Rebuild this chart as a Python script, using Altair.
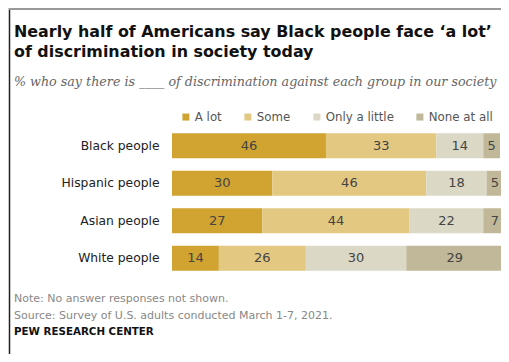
import altair as alt
import pandas as pd

groups = ["Black people", "Hispanic people", "Asian people", "White people"]
responses = ["A lot", "Some", "Only a little", "None at all"]
a_lot = [46, 30, 27, 14]
some = [33, 46, 44, 26]
only_little = [14, 18, 22, 30]
none_at_all = [5, 5, 7, 29]
colors = ["#D1A330", "#E3C882", "#DBD8C6", "#C0B898"]

rows = []
for i, g in enumerate(groups):
    for j, (r, vals) in enumerate(zip(responses, [a_lot, some, only_little, none_at_all])):
        rows.append({"group": g, "response": r, "value": vals[i], "order": j})
df = pd.DataFrame(rows)

SANS = "DejaVu Sans"
W, H = 329, 150
PAD = {"left": 164, "top": 119, "right": 0, "bottom": 77}
XMAX = 98.3

base = alt.Chart(df).transform_stack(
    stack="value", groupby=["group"], as_=["x0", "x1"],
    sort=[alt.SortField("order", order="ascending")]
).transform_calculate(mid="(datum.x0 + datum.x1) / 2")

yenc = alt.Y("group:N", sort=groups, title=None,
             scale=alt.Scale(paddingInner=1/3, paddingOuter=1/6),
             axis=alt.Axis(domain=False, ticks=False, labelPadding=13,
                           labelFont=SANS, labelFontSize=12.3, labelColor="#222222"))

bars = base.mark_bar(clip=True).encode(
    x=alt.X("x0:Q", scale=alt.Scale(domain=[0, XMAX], nice=False, zero=True), axis=None),
    x2="x1:Q",
    y=yenc,
    color=alt.Color("response:N", sort=responses,
                    scale=alt.Scale(domain=responses, range=colors),
                    legend=alt.Legend(orient="none", direction="horizontal", title=None,
                                      legendX=8, legendY=-16,
                                      symbolType="square", symbolSize=49,
                                      symbolStrokeWidth=0, labelOffset=3,
                                      columnPadding=20,
                                      labelFont=SANS, labelFontSize=11.8,
                                      labelColor="#555555")),
)

labels = base.mark_text(font=SANS, fontSize=13, color="#444444", baseline="middle").encode(
    x=alt.X("mid:Q"),
    y=alt.Y("group:N", sort=groups),
    text="value:Q",
)

def txt(s, x, y, size, color="#000000", weight="normal", style="normal", font=SANS):
    return alt.Chart(alt.Data(values=[{}])).mark_text(
        text=s, align="left", baseline="alphabetic", font=font, fontSize=size,
        color=color, fontWeight=weight, fontStyle=style
    ).encode(x=alt.value(x), y=alt.value(y))

X0 = -158
title1 = txt("Nearly half of Americans say Black people face \u2018a lot\u2019", X0, -90, 15.9, "#111111", "bold")
title2 = txt("of discrimination in society today", X0, -70, 15.9, "#111111", "bold")
subtitle = txt("% who say there is ____ of discrimination against each group in our society",
               X0, -41, 12.7, "#666666", style="italic", font="DejaVu Serif")
note = txt("Note: No answer responses not shown.", X0, 175, 11, "#888888")
source = txt("Source: Survey of U.S. adults conducted March 1-7, 2021.", X0, 192, 11, "#888888")
pew = txt("PEW RESEARCH CENTER", X0, 208, 10.3, "#111111", "bold")

border_left = alt.Chart(alt.Data(values=[{}])).mark_rule(color="#222222", strokeWidth=1.5).encode(
    x=alt.value(-162.5), y=alt.value(-119), y2=alt.value(227))
border_top = alt.Chart(alt.Data(values=[{}])).mark_rule(color="#999999", strokeWidth=2).encode(
    x=alt.value(-163), x2=alt.value(329), y=alt.value(-118))

chart = alt.layer(bars, labels, title1, title2, subtitle, note, source, pew,
                  border_left, border_top).properties(
    width=W, height=H,
    autosize=alt.AutoSizeParams(type="none"),
    padding=PAD,
    background="white",
).configure_view(stroke=None)

chart.save("out.html", embed_options={"renderer": "svg", "actions": False})
